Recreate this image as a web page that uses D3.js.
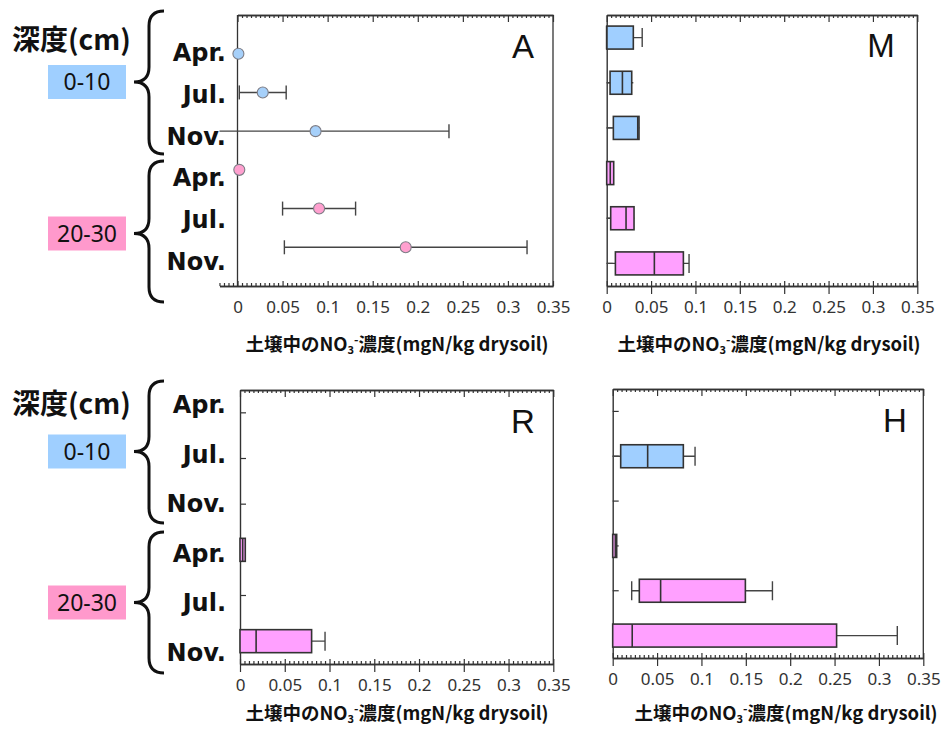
<!DOCTYPE html>
<html>
<head>
<meta charset="utf-8">
<script src="https://cdn.jsdelivr.net/npm/d3@7"></script>
<style>
    body { margin: 0; background: #fff; }
    text { font-family: 'Noto Sans', 'Noto Sans CJK JP', sans-serif; }
</style>
</head>
<body>
<svg id="chart" width="942" height="729"></svg>
<script>
const months = ['Apr.', 'Jul.', 'Nov.'];
const depths = ['0-10', '20-30'];
const rows = depths.flatMap(d => months.map(m => d + ' ' + m));
const xTicks = [0, 0.05, 0.1, 0.15, 0.2, 0.25, 0.3, 0.35];
const axisTitle = ['土壌中のNO', '3', '-', '濃度(mgN/kg drysoil)'];
const depthTitle = '深度(cm)';

// panel A: mean and error
const meanA = [0.001, 0.028, 0.0866, 0.002, 0.0905, 0.1866];
const errA = [0, 0.026, 0.148, 0.002, 0.0405, 0.1346];

// boxes: [low whisker, q1, median, q3, high whisker], null = no data
const boxM = [
    [0, 0, 0, 0.030, 0.040],
    [0, 0.0038, 0.0177, 0.0282, 0.030],
    [0, 0.0075, 0.035, 0.0364, 0.0368],
    [0, 0, 0.004, 0.0079, 0.0079],
    [0, 0.0045, 0.0218, 0.0308, 0.031],
    [0, 0.0098, 0.0537, 0.0864, 0.0928],
];
const boxR = [
    null, null, null,
    [0, 0, 0.003, 0.0059, 0.0059],
    null,
    [0, 0, 0.018, 0.080, 0.095],
];
const boxH = [
    null,
    [0, 0.009, 0.0394, 0.0796, 0.0928],
    null,
    [0, 0, 0.003, 0.0045, 0.0045],
    [0.0214, 0.030, 0.054, 0.1495, 0.180],
    [0, 0, 0.022, 0.2523, 0.3207],
];

const depthColor = { '0-10': '#9fcfff', '20-30': '#ff99cc' };
const boxColor = { '0-10': '#a0cfff', '20-30': '#ffa0ff' };
const dotColor = { '0-10': '#a6d0fa', '20-30': '#ffa0cf' };
const ink = '#333';

const svg = d3.select('#chart');

const panels = [
    { name: 'A', kind: 'dot', left: 237.5, right: 553, top: 15, bottom: 286, axisMin: -0.02,
      letter: [523, 58], titleX: 397, titleY: 351 },
    { name: 'M', kind: 'box', data: boxM, left: 606.7, right: 917.3, top: 15, bottom: 286, axisMin: 0,
      letter: [881, 57], titleX: 769, titleY: 351 },
    { name: 'R', kind: 'box', data: boxR, left: 240, right: 553.3, top: 390, bottom: 664, axisMin: 0,
      letter: [523, 433], titleX: 397, titleY: 720 },
    { name: 'H', kind: 'box', data: boxH, left: 612.7, right: 923.3, top: 389, bottom: 658, axisMin: 0,
      letter: [895, 432], titleX: 786, titleY: 720 },
];

function minorTicks(lo) {
    return d3.range(Math.round(lo * 200), 71)
        .map(i => i / 200)
        .filter(v => Math.round(v * 200) % 10 !== 0);
}

function drawPanel(p) {
    const g = svg.append('g');
    const x = d3.scaleLinear().domain([0, 0.35]).range([p.left, p.right]);
    const xb = x.copy().domain([p.axisMin, 0.35]).range([x(p.axisMin), p.right]);
    const y = p.kind === 'dot'
        ? d3.scalePoint().domain(rows).range([p.top, p.bottom]).padding(1)
        : d3.scaleBand().domain(rows).range([p.top, p.bottom]);
    const yc = k => (p.kind === 'dot' ? y(k) : y(k) + y.bandwidth() / 2);

    // top border with inward ticks
    g.append('g')
        .attr('transform', `translate(0,${p.top})`)
        .call(d3.axisTop(x).tickValues(minorTicks(0)).tickSize(-3).tickSizeOuter(0).tickFormat(''));
    g.append('g')
        .attr('transform', `translate(0,${p.top})`)
        .call(d3.axisTop(x).tickValues(xTicks).tickSize(-7).tickSizeOuter(0).tickFormat(''));

    // right border
    g.append('line')
        .attr('x1', p.right).attr('x2', p.right)
        .attr('y1', p.top).attr('y2', p.bottom)
        .attr('stroke', ink).attr('stroke-width', 1.3);

    // left axis
    if (p.kind === 'dot') {
        g.append('line')
            .attr('x1', x(0)).attr('x2', x(0))
            .attr('y1', p.top).attr('y2', p.bottom)
            .attr('stroke', ink).attr('stroke-width', 1.3);
    } else {
        g.append('g')
            .attr('transform', `translate(${x(0)},0)`)
            .call(d3.axisLeft(y).tickSize(-6).tickSizeOuter(0).tickFormat(''));
    }

    // bottom axis
    const bottom = g.append('g').attr('transform', `translate(0,${p.bottom})`);
    bottom.append('g')
        .call(d3.axisBottom(xb).tickValues(minorTicks(p.axisMin)).tickSize(-3).tickSizeOuter(0).tickFormat(''));
    bottom.append('g')
        .call(d3.axisBottom(xb).tickValues(xTicks).tickSize(-5).tickSizeOuter(0).tickFormat(''));
    bottom.append('g')
        .call(d3.axisBottom(xb).tickValues(xTicks)
            .tickSize(p.kind === 'dot' ? 0 : 8).tickSizeOuter(0)
            .tickPadding(p.kind === 'dot' ? 15 : 7)
            .tickFormat(d => String(+d.toFixed(2))))
        .call(a => a.select('.domain').remove())
        .selectAll('text')
        .attr('font-size', 17)
        .attr('fill', ink);

    g.selectAll('.domain, .tick line')
        .attr('stroke', ink)
        .attr('stroke-width', 1.2);
    g.selectAll('.domain').attr('stroke-width', 1.4);

    // marks
    const capH = 14;
    if (p.kind === 'dot') {
        const pts = rows.map((k, i) => ({
            key: k,
            depth: k.split(' ')[0],
            mean: meanA[i],
            lo: Math.max(meanA[i] - errA[i], p.axisMin),
            hi: meanA[i] + errA[i],
            clipped: meanA[i] - errA[i] < p.axisMin,
        }));
        const eb = g.append('g').attr('stroke', '#444').attr('stroke-width', 1.4);
        eb.selectAll('line.bar').data(pts.filter(d => d.hi > d.lo + 0.004)).join('line')
            .attr('class', 'bar')
            .attr('x1', d => x(d.lo)).attr('x2', d => x(d.hi))
            .attr('y1', d => yc(d.key)).attr('y2', d => yc(d.key));
        eb.selectAll('line.capr').data(pts.filter(d => d.hi > d.lo + 0.004)).join('line')
            .attr('class', 'capr')
            .attr('x1', d => x(d.hi)).attr('x2', d => x(d.hi))
            .attr('y1', d => yc(d.key) - capH / 2).attr('y2', d => yc(d.key) + capH / 2);
        eb.selectAll('line.capl').data(pts.filter(d => d.hi > d.lo + 0.004 && !d.clipped)).join('line')
            .attr('class', 'capl')
            .attr('x1', d => x(d.lo)).attr('x2', d => x(d.lo))
            .attr('y1', d => yc(d.key) - capH / 2).attr('y2', d => yc(d.key) + capH / 2);
        g.selectAll('circle').data(pts).join('circle')
            .attr('cx', d => x(d.mean))
            .attr('cy', d => yc(d.key))
            .attr('r', 5.5)
            .attr('fill', d => dotColor[d.depth])
            .attr('stroke', '#7d7d86')
            .attr('stroke-width', 1.1);
    } else {
        const bh = 23;
        const bx = rows.map((k, i) => ({ key: k, depth: k.split(' ')[0], s: p.data[i] }))
            .filter(d => d.s);
        const bg = g.append('g');
        bg.selectAll('line.whisk').data(bx).join('line')
            .attr('class', 'whisk')
            .attr('x1', d => x(d.s[0])).attr('x2', d => x(d.s[4]))
            .attr('y1', d => yc(d.key)).attr('y2', d => yc(d.key))
            .attr('stroke', '#444').attr('stroke-width', 1.4);
        bg.selectAll('line.caph').data(bx.filter(d => d.s[4] > d.s[3] + 0.002)).join('line')
            .attr('class', 'caph')
            .attr('x1', d => x(d.s[4])).attr('x2', d => x(d.s[4]))
            .attr('y1', d => yc(d.key) - bh / 2 + 2).attr('y2', d => yc(d.key) + bh / 2 - 2)
            .attr('stroke', '#444').attr('stroke-width', 1.4);
        bg.selectAll('line.capl').data(bx.filter(d => d.s[0] > 0.002)).join('line')
            .attr('class', 'capl')
            .attr('x1', d => x(d.s[0])).attr('x2', d => x(d.s[0]))
            .attr('y1', d => yc(d.key) - bh / 2 + 2).attr('y2', d => yc(d.key) + bh / 2 - 2)
            .attr('stroke', '#444').attr('stroke-width', 1.4);
        bg.selectAll('rect').data(bx).join('rect')
            .attr('x', d => x(d.s[1]))
            .attr('width', d => Math.max(x(d.s[3]) - x(d.s[1]), 1))
            .attr('y', d => yc(d.key) - bh / 2)
            .attr('height', bh)
            .attr('fill', d => boxColor[d.depth])
            .attr('stroke', '#333')
            .attr('stroke-width', 1.6);
        bg.selectAll('line.med').data(bx).join('line')
            .attr('class', 'med')
            .attr('x1', d => x(d.s[2])).attr('x2', d => x(d.s[2]))
            .attr('y1', d => yc(d.key) - bh / 2).attr('y2', d => yc(d.key) + bh / 2)
            .attr('stroke', '#333').attr('stroke-width', 1.6);
    }

    // panel letter
    g.append('text')
        .attr('x', p.letter[0]).attr('y', p.letter[1])
        .attr('text-anchor', 'middle')
        .style('font-family', "'Liberation Sans', sans-serif")
        .attr('font-size', 33)
        .attr('fill', '#111')
        .text(p.name);

    // axis title
    const t = g.append('text')
        .attr('x', p.titleX).attr('y', p.titleY)
        .attr('text-anchor', 'middle')
        .style('font-family', "'Noto Sans CJK JP', sans-serif")
        .attr('font-size', 18.5)
        .attr('font-weight', 'bold')
        .attr('fill', '#111');
    t.append('tspan').text(axisTitle[0]);
    t.append('tspan').attr('font-size', 11).attr('dy', 3).text(axisTitle[1]);
    t.append('tspan').attr('font-size', 12).attr('dy', -10).text(axisTitle[2]);
    t.append('tspan').attr('dy', 7).text(axisTitle[3]);
}

panels.forEach(drawPanel);

// depth / month labels on the left of each row of panels
function brace(x0, y0, y1, yt, w) {
    const xs = x0 - w / 2, xt = x0 - w, r = w / 2;
    return `M${x0},${y0} Q${xs},${y0} ${xs},${y0 + r} L${xs},${yt - r} Q${xs},${yt} ${xt},${yt}` +
        ` Q${xs},${yt} ${xs},${yt + r} L${xs},${y1 - r} Q${xs},${y1} ${x0},${y1}`;
}

const halves = [
    { top: 40, labelRange: [53, 262], boxes: [82, 233.5], braces: [[11, 154], [161, 302]] },
    { top: 404, labelRange: [405, 653], boxes: [451.5, 602.5], braces: [[381, 523], [532, 673]] },
];

halves.forEach(h => {
    const g = svg.append('g');
    const ly = d3.scalePoint().domain(rows).range(h.labelRange);

    g.append('text')
        .attr('x', 12).attr('y', h.top + 10)
        .style('font-family', "'Noto Sans CJK JP', sans-serif")
        .attr('font-size', 28)
        .attr('font-weight', 'bold')
        .attr('fill', '#111')
        .text(depthTitle);

    depths.forEach((d, i) => {
        const cy = h.boxes[i];
        g.append('rect')
            .attr('x', 48).attr('y', cy - 17)
            .attr('width', 78).attr('height', 34)
            .attr('fill', depthColor[d]);
        g.append('text')
            .attr('x', 87).attr('y', cy + 8)
            .attr('text-anchor', 'middle')
            .attr('font-size', 23)
            .attr('fill', '#111')
            .text(d);
        const [b0, b1] = h.braces[i];
        g.append('path')
            .attr('d', brace(164, b0, b1, cy, 30))
            .attr('fill', 'none')
            .attr('stroke', '#111')
            .attr('stroke-width', 3);
    });

    g.selectAll('text.lab').data(rows).join('text')
        .attr('class', 'lab')
        .attr('x', 226)
        .attr('y', k => ly(k) + 8)
        .attr('text-anchor', 'end')
        .style('font-family', "'DejaVu Sans', sans-serif")
        .attr('font-size', 24)
        .attr('font-weight', 'bold')
        .attr('fill', '#111')
        .text(k => k.split(' ')[1]);
});
</script>
</body>
</html>
